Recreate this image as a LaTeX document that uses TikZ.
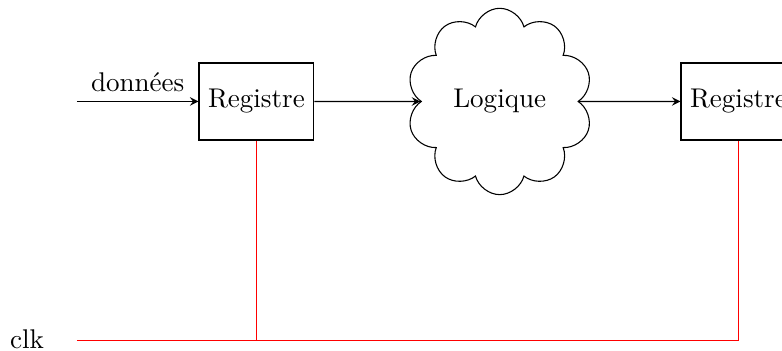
\documentclass[tikz,border=0pt]{standalone}
\usepackage{tikz}
\usetikzlibrary{arrows, arrows.meta}
\usetikzlibrary{shapes.symbols, positioning}

\begin{document}
\begin{tikzpicture}[
  registre/.style={draw, minimum height=1cm},
  logique/.style={draw, cloud, cloud puffs=10, aspect=1, minimum width=2.35cm, minimum height=2.35cm},
  horloge/.style={draw=red}]
\useasboundingbox (0,0) rectangle (10.156,4.558);
\node[registre] (reg1) at (3.33,3.24) {Registre};
\node[logique] (logic) at (6.49,3.24) {Logique};
\node[registre] (reg2) at (9.59,3.24) {Registre};
\node (clk) at (0.35,0.15) {clk};
\coordinate (din) at (1,3.24);
\coordinate (clkin) at (1,0.13);
\draw[>=stealth, ->] (din) -- node[above] {donn\'ees} (reg1);
\draw[>=stealth, ->] (reg1) -- (logic);
\draw[>=stealth, ->] (logic) -- (reg2);
\draw[horloge] (clkin) -| (reg2.south);
\draw[horloge] (reg1.south) -- (reg1.south |- clkin);
\end{tikzpicture}
\end{document}
